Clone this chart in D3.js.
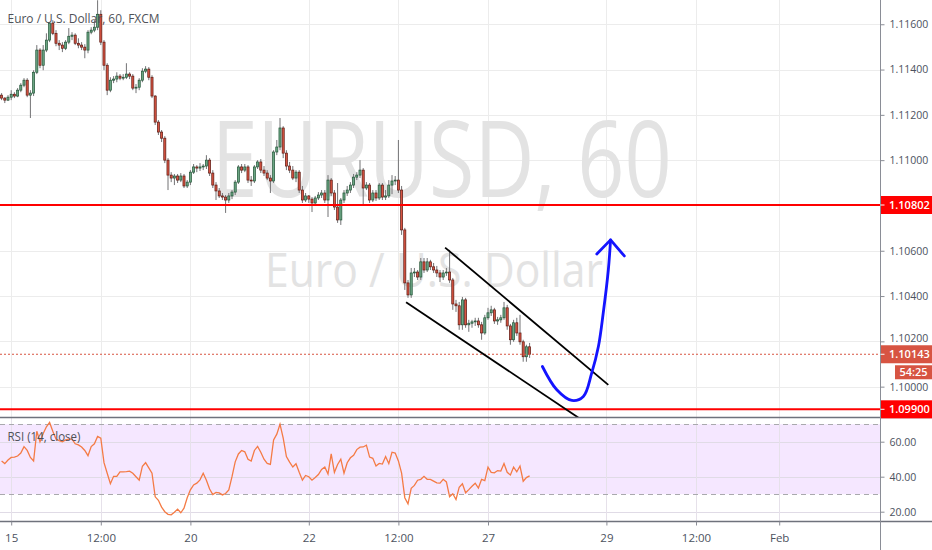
<!DOCTYPE html>
<html><head><meta charset="utf-8">
<script src="https://cdn.jsdelivr.net/npm/d3@7"></script>
<style>
html,body{margin:0;padding:0;background:#fff;}
svg{display:block;font-family:"Open Sans","Noto Sans",sans-serif;}
</style>
</head><body>
<svg id="c" width="932" height="550"></svg>
<script>
// ---------------- DATA ----------------
const title = "Euro / U.S. Dollar, 60, FXCM";
const watermark = ["EURUSD, 60", "Euro / U.S. Dollar"];
const rsiLabel = "RSI (14, close)";
const firstOpen = 1.11287;
const closes = [
1.11274,1.11265,1.11278,1.11291,1.11283,1.11309,1.11331,1.11353,1.11287,1.11296,
1.11388,1.11486,1.11419,1.11486,1.11530,1.11605,1.11560,1.11516,1.11508,1.11494,
1.11521,1.11547,1.11552,1.11516,1.11508,1.11499,1.11486,1.11565,1.11574,1.11587,
1.11644,1.11521,1.11419,1.11309,1.11353,1.11358,1.11371,1.11362,1.11366,1.11380,
1.11371,1.11318,1.11322,1.11353,1.11393,1.11402,1.11366,1.11283,1.11168,1.11124,
1.11097,1.11000,1.10934,1.10921,1.10930,1.10912,1.10930,1.10886,1.10903,1.10947,
1.10970,1.10965,1.10970,1.10974,1.11000,1.10943,1.10890,1.10864,1.10842,1.10837,
1.10824,1.10842,1.10859,1.10903,1.10970,1.10956,1.10970,1.10912,1.10908,1.10970,
1.10992,1.10956,1.10943,1.10921,1.10908,1.11036,1.11058,1.11142,1.11031,1.10974,
1.10956,1.10921,1.10947,1.10868,1.10824,1.10842,1.10828,1.10811,1.10833,1.10846,
1.10855,1.10824,1.10912,1.10855,1.10793,1.10736,1.10824,1.10855,1.10868,1.10890,
1.10925,1.10934,1.10956,1.10877,1.10890,1.10824,1.10855,1.10833,1.10890,1.10837,
1.10842,1.10890,1.10908,1.10912,1.10868,1.10692,1.10458,1.10405,1.10502,1.10506,
1.10484,1.10551,1.10515,1.10551,1.10529,1.10515,1.10502,1.10484,1.10502,1.10506,
1.10471,1.10365,1.10357,1.10273,1.10383,1.10273,1.10280,1.10286,1.10290,1.10273,
1.10237,1.10304,1.10326,1.10339,1.10290,1.10295,1.10304,1.10348,1.10268,1.10207,
1.10282,1.10237,1.10198,1.10132,1.10176,1.10143];
const highs = [
1.11296,1.11278,1.11287,1.11309,1.11300,1.11318,1.11340,1.11362,1.11362,1.11309,
1.11397,1.11508,1.11494,1.11508,1.11560,1.11609,1.11618,1.11574,1.11530,1.11521,
1.11530,1.11583,1.11565,1.11560,1.11538,1.11521,1.11512,1.11574,1.11587,1.11618,
1.11706,1.11662,1.11530,1.11428,1.11366,1.11371,1.11388,1.11380,1.11380,1.11428,
1.11388,1.11380,1.11336,1.11362,1.11406,1.11415,1.11411,1.11375,1.11287,1.11177,
1.11133,1.11106,1.11009,1.10947,1.10939,1.10939,1.10943,1.10939,1.10912,1.10956,
1.10983,1.10978,1.10987,1.10983,1.11022,1.11009,1.10956,1.10903,1.10877,1.10855,
1.10846,1.10855,1.10868,1.10912,1.10978,1.10983,1.10983,1.10978,1.10930,1.10978,
1.11000,1.11005,1.10974,1.10956,1.10934,1.11044,1.11089,1.11186,1.11150,1.11044,
1.10992,1.10974,1.10956,1.10956,1.10886,1.10855,1.10846,1.10837,1.10842,1.10859,
1.10868,1.10868,1.10934,1.10921,1.10868,1.10899,1.10833,1.10868,1.10886,1.10903,
1.10939,1.10947,1.11000,1.10965,1.10903,1.10899,1.10868,1.10868,1.10899,1.10899,
1.10868,1.10912,1.10934,1.10930,1.11089,1.10886,1.10701,1.10471,1.10524,1.10524,
1.10515,1.10568,1.10568,1.10568,1.10560,1.10546,1.10533,1.10515,1.10515,1.10524,
1.10604,1.10480,1.10383,1.10374,1.10396,1.10392,1.10295,1.10295,1.10304,1.10304,
1.10286,1.10317,1.10348,1.10357,1.10348,1.10308,1.10317,1.10374,1.10361,1.10277,
1.10295,1.10304,1.10317,1.10207,1.10185,1.10193];
const lows = [
1.11265,1.11252,1.11261,1.11265,1.11274,1.11278,1.11300,1.11322,1.11278,1.11186,
1.11283,1.11380,1.11406,1.11397,1.11477,1.11521,1.11552,1.11503,1.11486,1.11477,
1.11486,1.11512,1.11530,1.11508,1.11494,1.11486,1.11450,1.11472,1.11556,1.11565,
1.11574,1.11508,1.11397,1.11287,1.11300,1.11340,1.11344,1.11353,1.11353,1.11358,
1.11358,1.11309,1.11296,1.11309,1.11344,1.11384,1.11353,1.11274,1.11155,1.11111,
1.11080,1.10987,1.10868,1.10903,1.10890,1.10899,1.10903,1.10877,1.10877,1.10890,
1.10939,1.10947,1.10952,1.10956,1.10961,1.10930,1.10877,1.10824,1.10833,1.10824,
1.10767,1.10811,1.10828,1.10846,1.10895,1.10943,1.10947,1.10899,1.10886,1.10899,
1.10961,1.10943,1.10930,1.10912,1.10855,1.10899,1.11022,1.11044,1.11009,1.10956,
1.10943,1.10912,1.10903,1.10855,1.10811,1.10815,1.10811,1.10771,1.10798,1.10824,
1.10833,1.10811,1.10749,1.10842,1.10780,1.10723,1.10714,1.10811,1.10842,1.10855,
1.10877,1.10912,1.10921,1.10802,1.10868,1.10811,1.10815,1.10820,1.10824,1.10824,
1.10824,1.10833,1.10850,1.10890,1.10855,1.10670,1.10427,1.10392,1.10392,1.10484,
1.10471,1.10471,1.10502,1.10506,1.10515,1.10502,1.10484,1.10462,1.10471,1.10489,
1.10458,1.10339,1.10330,1.10251,1.10251,1.10260,1.10242,1.10260,1.10268,1.10260,
1.10207,1.10229,1.10295,1.10312,1.10277,1.10273,1.10282,1.10295,1.10251,1.10185,
1.10198,1.10224,1.10185,1.10110,1.10110,1.10127];
const rsi = [
49.0,47.5,49.5,51,51.2,51.8,53.5,57.2,55,51,
49,66,60,64.7,68.5,71,66,61.5,60.6,60,
61,61.5,61.5,58.8,58.2,57,55,52,57.2,58.8,
63,62,48,42,36,40.2,40.2,42.8,42.8,42.9,
43.2,42,40,38,46,48,45,42,28.5,26.5,
22.6,20,18.5,18.2,19.7,21.5,19.4,22,28,32.5,
35.3,36.3,38.2,42,38,33,29.8,31,30.7,29.6,
30.4,32.5,40,48.5,53,55,54.2,50,49,55,
57.3,54,50,47.6,47,61,64.3,70,62,51.5,
48.3,45.5,47.4,42.5,38,40.7,40,38,39.5,41.2,
44.1,45.5,41.5,53,42.5,47,50,42,48,50.8,
52.2,55.5,56.9,57,58,51.2,50.5,46.1,47.6,47.2,
51.5,47.5,54,53.5,49,42,28,24.5,33.4,35,
38,38.5,40.2,38.5,38.5,37.5,36.5,36.3,38.5,37,
28.6,30.3,27,34,36,30.8,32.6,34.5,36.3,33.5,
38.5,37.8,45.5,42.5,42.2,43.5,43.2,47.5,42.5,41,
45.5,42.8,46.1,37.4,39.5,40.5];
const priceTicks = [1.100,1.102,1.104,1.106,1.108,1.110,1.112,1.114,1.116];
const rsiTicks = [20,40,60];
const rsiBand = [30,70];
const timeTickIdx = [3,31,59,96,124,152,189,217,243];
const timeTickLabels = ["15","12:00","20","22","12:00","27","29","12:00","Feb"];
const levels = [1.10802,1.09900];
const lastPrice = 1.10143;
const countdown = "54:25";
const upperChannel = [[138.6,1.10614],[189.6,1.10008]];
const lowerChannel = [[126.4,1.10373],[181.0,1.09856]];
const arrowCurve = [[169.0,1.10089],[173.5,1.09986],[178.2,1.09939],[181.8,1.09957],[184.4,1.10060],[186.5,1.10177],[188.0,1.10324],[189.6,1.10515],[190.3,1.10648]];
const arrowHead = [[186.0,1.10586],[190.3,1.10648],[194.6,1.10577]];

// ---------------- LAYOUT ----------------
const W=932,H=550,PW=880,MB=417,RT=418,RB=521;
const upBody="#6ba583",upBorder="#225437",dnBody="#d75442",dnBorder="#5b1a13",wickCol="#737375";
const gridCol="#ececec", txtCol="#4c525e", fontAxis='"Open Sans","Noto Sans",sans-serif';

const x = d3.scaleLinear().domain([0,274.5]).range([1.6,880]);
const y = d3.scaleLinear().domain([1.09900,1.10802]).range([409.3,205]);
const ry = d3.scaleLinear().domain([20,60]).range([511.7,441.7]);

const bars = closes.map((c,i)=>{const o=i===0?firstOpen:closes[i-1];
  return {i,o,c,h:Math.max(highs[i],o,c),l:Math.min(lows[i],o,c)};});

const svg=d3.select("#c");
svg.append("rect").attr("width",W).attr("height",H).attr("fill","#fff");
const defs=svg.append("defs");
defs.append("clipPath").attr("id","cm").append("rect").attr("x",0).attr("y",0).attr("width",PW).attr("height",MB);
defs.append("clipPath").attr("id","cr").append("rect").attr("x",0).attr("y",RT).attr("width",PW).attr("height",RB-RT);

// ---------- main pane ----------
const main=svg.append("g").attr("clip-path","url(#cm)");
main.selectAll("line.hg").data(priceTicks).join("line").attr("class","hg")
  .attr("x1",0).attr("x2",PW).attr("y1",d=>Math.round(y(d))+0.5).attr("y2",d=>Math.round(y(d))+0.5)
  .attr("stroke",gridCol).attr("stroke-width",1);
main.selectAll("line.vg").data(timeTickIdx).join("line").attr("class","vg")
  .attr("x1",d=>Math.round(x(d))+0.5).attr("x2",d=>Math.round(x(d))+0.5).attr("y1",0).attr("y2",MB)
  .attr("stroke",gridCol).attr("stroke-width",1);

// watermark
main.append("text").text(watermark[0]).attr("x",211.7).attr("y",196.7)
  .attr("font-size",107).attr("fill","#e3e3e3").attr("textLength",460).attr("lengthAdjust","spacingAndGlyphs");
main.append("text").text(watermark[1]).attr("x",265).attr("y",286.7)
  .attr("font-size",47).attr("fill","#e3e3e3").attr("textLength",338).attr("lengthAdjust","spacingAndGlyphs");

// candles
main.selectAll("line.wick").data(bars).join("line").attr("class","wick")
  .attr("x1",d=>x(d.i)).attr("x2",d=>x(d.i)).attr("y1",d=>y(d.h)).attr("y2",d=>y(d.l))
  .attr("stroke",wickCol).attr("stroke-width",1);
main.selectAll("rect.body").data(bars).join("rect").attr("class","body")
  .attr("x",d=>x(d.i)-1.05).attr("width",2.1)
  .attr("y",d=>Math.min(y(d.o),y(d.c)))
  .attr("height",d=>Math.max(0.8,Math.abs(y(d.o)-y(d.c))))
  .attr("fill",d=>d.c>=d.o?upBody:dnBody)
  .attr("stroke",d=>d.c>=d.o?upBorder:dnBorder).attr("stroke-width",0.7);

// horizontal levels
main.selectAll("line.lvl").data(levels).join("line").attr("class","lvl")
  .attr("x1",0).attr("x2",PW).attr("y1",d=>y(d)).attr("y2",d=>y(d))
  .attr("stroke","#ff0000").attr("stroke-width",2);
main.append("line").attr("x1",0).attr("x2",PW).attr("y1",y(lastPrice)).attr("y2",y(lastPrice))
  .attr("stroke",dnBody).attr("stroke-width",1).attr("stroke-dasharray","2,2");

// channel
const ln=d3.line().x(d=>x(d[0])).y(d=>y(d[1]));
[upperChannel,lowerChannel].forEach(c=>main.append("path").attr("d",ln(c))
  .attr("stroke","#000").attr("stroke-width",1.8).attr("fill","none"));
// hand-drawn arrow
main.append("path").attr("d",d3.line().x(d=>x(d[0])).y(d=>y(d[1])).curve(d3.curveCatmullRom.alpha(0.5))(arrowCurve))
  .attr("stroke","#1414ff").attr("stroke-width",2.8).attr("fill","none").attr("stroke-linecap","round");
main.append("path").attr("d",ln(arrowHead))
  .attr("stroke","#1414ff").attr("stroke-width",2.8).attr("fill","none").attr("stroke-linecap","round").attr("stroke-linejoin","round");

// title
svg.append("text").text(title).attr("x",7.5).attr("y",22.5).attr("font-size",13)
  .attr("fill","#4f5258").attr("textLength",152).attr("lengthAdjust","spacingAndGlyphs");

// ---------- RSI pane ----------
const rp=svg.append("g").attr("clip-path","url(#cr)");
rp.append("rect").attr("x",0).attr("width",PW).attr("y",ry(rsiBand[1])).attr("height",ry(rsiBand[0])-ry(rsiBand[1]))
  .attr("fill","rgba(153,21,255,0.1)");
rp.selectAll("line.rg").data(rsiTicks).join("line").attr("class","rg")
  .attr("x1",0).attr("x2",PW).attr("y1",d=>Math.round(ry(d))+0.5).attr("y2",d=>Math.round(ry(d))+0.5)
  .attr("stroke","#e0dbe6").attr("stroke-width",1);
rp.selectAll("line.vg").data(timeTickIdx).join("line").attr("class","vg")
  .attr("x1",d=>Math.round(x(d))+0.5).attr("x2",d=>Math.round(x(d))+0.5).attr("y1",RT).attr("y2",RB)
  .attr("stroke","#e6e1ea").attr("stroke-width",1);
rp.selectAll("line.band").data(rsiBand).join("line").attr("class","band")
  .attr("x1",0).attr("x2",PW).attr("y1",d=>Math.round(ry(d))+0.5).attr("y2",d=>Math.round(ry(d))+0.5)
  .attr("stroke","#a9a9ad").attr("stroke-width",1).attr("stroke-dasharray","5,4");
rp.append("path").datum(rsi).attr("d",d3.line().x((d,i)=>x(i)).y(d=>ry(d)))
  .attr("stroke","#f47b45").attr("stroke-width",1.3).attr("fill","none");
svg.append("text").text(rsiLabel).attr("x",7.5).attr("y",441).attr("font-size",13)
  .attr("fill","#4f5258").attr("textLength",73).attr("lengthAdjust","spacingAndGlyphs");

// ---------- frame lines ----------
svg.append("line").attr("x1",0).attr("x2",W).attr("y1",417.5).attr("y2",417.5).attr("stroke","#6f727c").attr("stroke-width",1.6);
svg.append("line").attr("x1",0).attr("x2",W).attr("y1",521.5).attr("y2",521.5).attr("stroke","#6f727c").attr("stroke-width",1.6);
svg.append("line").attr("x1",880.5).attr("x2",880.5).attr("y1",0).attr("y2",H).attr("stroke","#8a8d96").attr("stroke-width",1);

// ---------- axes ----------
function styleAxis(g){
  g.select(".domain").remove();
  g.selectAll(".tick line").attr("stroke","#8a8d96");
  g.selectAll(".tick text").attr("fill",txtCol).attr("font-family",fontAxis).attr("font-size",10.5);
}
// label boxes on the price axis (top / bottom in px)
const boxes = levels.map(l=>[y(l)-9,y(l)+9]).concat([[y(lastPrice)-9,y(lastPrice)+9],[y(lastPrice)+11,y(lastPrice)+25]]);
const labelTicks = priceTicks.filter(t=>levels.every(l=>Math.abs(l-t)>0.0002));
svg.append("g").attr("transform","translate(880.5,0)")
  .call(d3.axisRight(y).tickValues(labelTicks).tickFormat(d3.format(".5f")).tickSize(4).tickPadding(5))
  .call(styleAxis)
  .call(g=>g.selectAll(".tick text").attr("transform",d=>{
     const base=y(d)+3.4, top=base-8.5, bot=base+3;
     let shift=0;
     boxes.forEach(b=>{ if(bot>b[0] && top<b[0]) shift=Math.min(shift,b[0]-bot-0.3); });
     return `translate(0,${shift})`;
  }));
svg.append("g").attr("transform","translate(880.5,0)")
  .call(d3.axisRight(ry).tickValues(rsiTicks).tickFormat(d3.format(".2f")).tickSize(4).tickPadding(5))
  .call(styleAxis);
svg.append("g").attr("transform","translate(0,521.5)")
  .call(d3.axisBottom(x).tickValues(timeTickIdx).tickFormat((d,i)=>timeTickLabels[i]).tickSize(4).tickPadding(8))
  .call(styleAxis)
  .call(g=>g.selectAll(".tick text").attr("font-size",11.5));

// ---------- price labels ----------
function priceBox(val,col,txt){
  const cy=y(val);
  svg.append("rect").attr("x",881).attr("y",cy-9).attr("width",W-881).attr("height",18).attr("fill",col);
  svg.append("line").attr("x1",880.5).attr("x2",884.5).attr("y1",cy).attr("y2",cy).attr("stroke","#fff");
  svg.append("text").text(txt).attr("x",889).attr("y",cy+4).attr("fill","#fff")
    .attr("font-family",fontAxis).attr("font-size",11).attr("font-weight",600);
}
levels.forEach(l=>priceBox(l,"#ff0000",d3.format(".5f")(l)));
priceBox(lastPrice,dnBody,d3.format(".5f")(lastPrice));
const cdy=y(lastPrice)+11;
svg.append("rect").attr("x",895).attr("y",cdy).attr("width",W-895).attr("height",14).attr("fill",dnBody);
svg.append("text").text(countdown).attr("x",913.5).attr("y",cdy+10.5).attr("text-anchor","middle")
  .attr("fill","#fff").attr("font-family",fontAxis).attr("font-size",11).attr("font-weight",600);
</script>
</body></html>
